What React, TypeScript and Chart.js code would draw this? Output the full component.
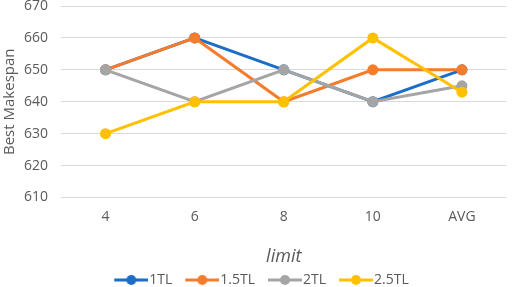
import React, { useEffect, useRef } from "react";
import { Chart, registerables } from "chart.js";

Chart.register(...registerables);

const categories = ["4", "6", "8", "10", "AVG"];
const seriesNames = ["1TL", "1.5TL", "2TL", "2.5TL"];
const tl1 = [650, 660, 650, 640, 650];
const tl15 = [650, 660, 640, 650, 650];
const tl2 = [650, 640, 650, 640, 645];
const tl25 = [630, 640, 640, 660, 643];
const yTicks = [610, 620, 630, 640, 650, 660, 670];
const colors = ["#1C6DC8", "#F57C2C", "#A5A5A5", "#FFC000"];

function legendIcon(color: string): HTMLCanvasElement {
  const c = document.createElement("canvas");
  c.width = 53;
  c.height = 12;
  const g = c.getContext("2d")!;
  g.strokeStyle = color;
  g.lineWidth = 3;
  g.beginPath();
  g.moveTo(19, 6);
  g.lineTo(53, 6);
  g.stroke();
  g.fillStyle = color;
  g.beginPath();
  g.arc(36, 6, 5, 0, Math.PI * 2);
  g.fill();
  return c;
}

export default function App() {
  const ref = useRef<HTMLCanvasElement | null>(null);
  useEffect(() => {
    if (!ref.current) return;
    const series = [tl1, tl15, tl2, tl25];
    const icons = colors.map(legendIcon);
    const chart = new Chart(ref.current, {
      type: "line",
      data: {
        labels: categories,
        datasets: series.map((d, i) => ({
          label: seriesNames[i],
          data: d,
          borderColor: colors[i],
          backgroundColor: colors[i],
          borderWidth: 3,
          pointRadius: 5.5,
          pointHoverRadius: 5.5,
          pointBorderWidth: 0,
          pointStyle: "circle",
          tension: 0,
          fill: false,
          order: 4 - i,
        })),
      },
      options: {
        animation: false,
        responsive: false,
        maintainAspectRatio: false,
        layout: { padding: { top: 6, right: 2, left: 0, bottom: -10 } },
        plugins: {
          tooltip: { enabled: false },
          legend: {
            position: "bottom",
            labels: {
              usePointStyle: true,
              pointStyle: "circle",
              pointStyleWidth: 41,
              boxHeight: 10,
              padding: 0,
              color: "#595959",
              font: { family: "Open Sans", size: 14 },
              sort: (a: any, b: any) => a.datasetIndex - b.datasetIndex,
              generateLabels: (ch: any) =>
                ch.data.datasets.map((ds: any, i: number) => ({
                  text: ds.label,
                  fillStyle: colors[i],
                  strokeStyle: colors[i],
                  lineWidth: 0,
                  pointStyle: icons[i],
                  hidden: false,
                  datasetIndex: i,
                  fontColor: "#595959",
                })),
            },
          },
        },
        scales: {
          x: {
            offset: true,
            afterFit: (s: any) => {
              const lh = s.chart.legend ? s.chart.legend.height : 24;
              s.height = 297 - 197.5 - lh;
              s.paddingLeft = 0;
              s.paddingRight = 0;
            },
            grid: { display: false, drawTicks: false },
            border: { display: false },
            ticks: {
              color: "#595959",
              font: { family: "Open Sans", size: 14 },
              padding: 11,
            },
            title: {
              display: true,
              text: "limit",
              color: "#595959",
              font: { family: "Open Sans", size: 18, style: "italic" },
              padding: { top: 10, bottom: 5 },
            },
          },
          y: {
            min: 610,
            max: 670,
            afterBuildTicks: (s: any) => {
              s.ticks = yTicks.map((v) => ({ value: v }));
            },
            afterFit: (s: any) => {
              s.width = 61;
              s.paddingTop = 0;
              s.paddingBottom = 0;
            },
            grid: { color: "#D9D9D9", lineWidth: 1, drawTicks: false },
            border: { display: false },
            ticks: {
              color: "#595959",
              font: { family: "Open Sans", size: 14 },
              padding: 13,
            },
            title: {
              display: true,
              text: "Best Makespan",
              color: "#595959",
              font: { family: "Open Sans", size: 15 },
              padding: { top: 1, bottom: 2 },
            },
          },
        },
      },
    });
    return () => chart.destroy();
  }, []);
  return (
    <div style={{ position: "fixed", left: 0, top: 0, width: 512, height: 287, background: "#fff" }}>
      <canvas ref={ref} width={512} height={287} style={{ width: 512, height: 287 }} />
    </div>
  );
}
